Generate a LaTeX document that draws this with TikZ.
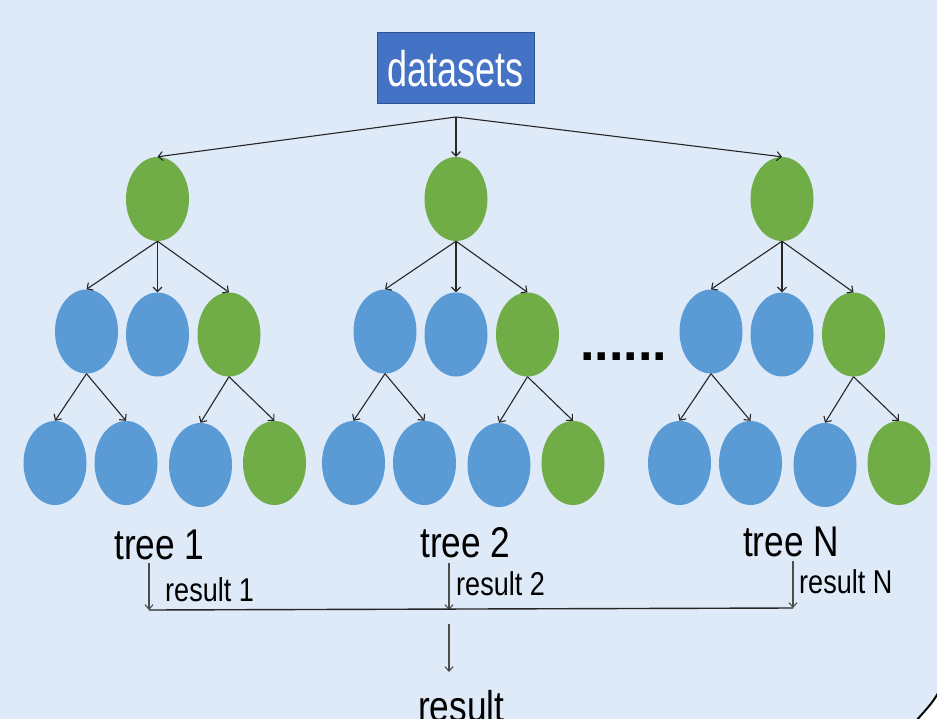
\documentclass[tikz,border=0pt]{standalone}
\usepackage{fontspec}
\setmainfont{Liberation Sans}
\newfontfamily\nar[FakeStretch=0.82]{Liberation Sans}
\newfontfamily\narD[FakeStretch=0.72]{Liberation Sans}
\usetikzlibrary{shapes.geometric,arrows.meta}
\definecolor{bg}{HTML}{DEEAF8}
\definecolor{lblue}{HTML}{5B9BD5}
\definecolor{lgreen}{HTML}{70AD47}
\definecolor{dsblue}{HTML}{4472C4}
\definecolor{dsedge}{HTML}{2F528F}
\begin{document}
\begin{tikzpicture}[x=1pt,y=-1pt,
  leaf/.style={ellipse,minimum width=63pt,minimum height=84pt,inner sep=0pt},
  bl/.style={leaf,fill=lblue},
  gr/.style={leaf,fill=lgreen},
  arr/.style={-{Straight Barb[length=4.5pt,width=9pt]},line width=1.1pt,black!85},
  garr/.style={-{Straight Barb[length=4.5pt,width=8pt]},line width=1.1pt,black!70},
  big/.style={inner sep=0pt,font=\nar\fontsize{43}{43}\selectfont},
  small/.style={inner sep=0pt,anchor=base west,font=\nar\fontsize{33}{33}\selectfont}]
\clip (0,0) rectangle (937,719);
\fill[bg] (0,0) rectangle (937,719);
\fill[white] (940,690) .. controls (932,703) .. (915,722) -- (940,722) -- cycle;
\draw[line width=2pt] (940,690) .. controls (932,703) .. (915,722);
% datasets
\node[fill=dsblue,draw=dsedge,line width=1pt,minimum width=157pt,minimum height=71pt,inner sep=0pt,
  text=white,font=\narD\fontsize{50}{50}\selectfont] (ds) at (455.5,68.5) {datasets};
\coordinate (apex) at (456,117);
% trees
\foreach \x/\n in {157.5/1,456/2,782/3}{
  \node[gr] (r\n) at (\x,199) {};
  \node[bl] (a\n) at (\x-71,331.5) {};
  \node[bl] (b\n) at (\x,334.5) {};
  \node[gr] (c\n) at (\x+71.5,334.5) {};
  \node[bl] (d\n) at (\x-102.5,463) {};
  \node[bl] (e\n) at (\x-31.5,463) {};
  \node[bl] (f\n) at (\x+43,465) {};
  \node[gr] (g\n) at (\x+117,463) {};
  \draw[arr] (r\n.south) -- (a\n.north);
  \draw[arr] (r\n.south) -- (b\n.north);
  \draw[arr] (r\n.south) -- (c\n.north);
  \draw[arr] (a\n.south) -- (d\n.north);
  \draw[arr] (a\n.south) -- (e\n.north);
  \draw[arr] (c\n.south) -- (f\n.north);
  \draw[arr] (c\n.south) -- (g\n.north);
  \draw[arr] (apex) -- (r\n.north);
}
% dots
\node[inner sep=0pt,anchor=base west,font=\bfseries\fontsize{52}{52}\selectfont] (dots) at (580,360) {......};
% labels
\node[big,anchor=base] (l1) at (159.5,559) {tree 1};
\node[big,anchor=base] (l2) at (465.5,557) {tree 2};
\node[big,anchor=base] (l3) at (791,556) {tree N};
\node[small] (res1) at (165,601) {result 1};
\node[small] (res2) at (456,595) {result 2};
\node[small] (res3) at (799,593) {result N};
\node[big,anchor=base west] (final) at (418,721) {result};
% bottom connectors
\coordinate (s1) at (149,563);
\coordinate (s2) at (449,563);
\coordinate (s3) at (793,561);
\coordinate (j1) at (149,610);
\coordinate (j2) at (449,610);
\coordinate (j3) at (793,608);
\coordinate (m1) at (449,624);
\coordinate (m2) at (449,672);
\draw[garr] (s1) -- (j1);
\draw[garr] (s2) -- (j2);
\draw[garr] (s3) -- (j3);
\draw[line width=1.4pt,black!85] (j1) -- (j3);
\draw[garr] (m1) -- (m2);
\end{tikzpicture}
\end{document}
